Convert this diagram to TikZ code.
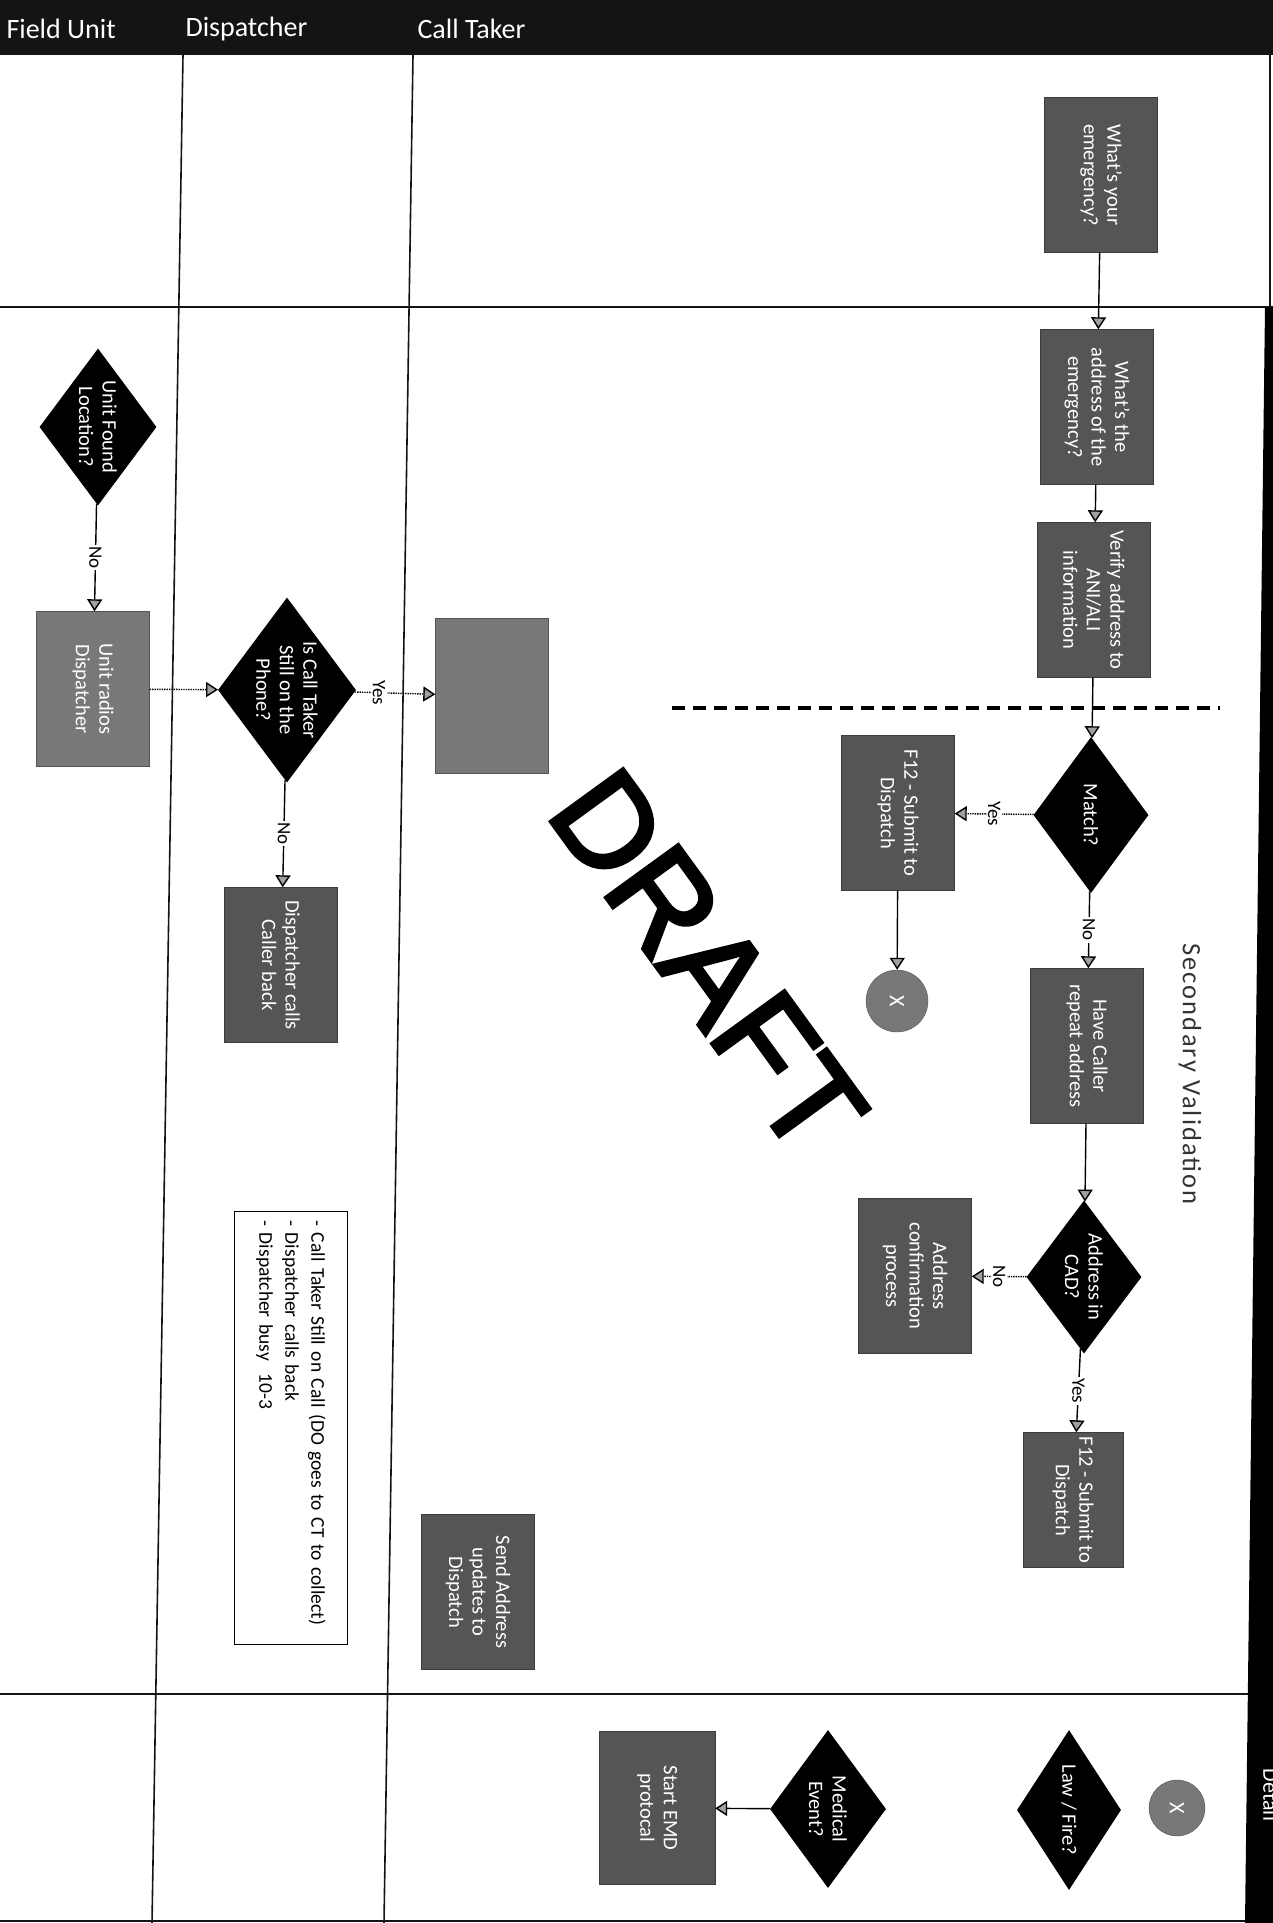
\documentclass[tikz,border=0pt]{standalone}
\usepackage{fontspec}
\setmainfont{Carlito}
\newfontfamily\draftfont[FakeBold=3]{Liberation Sans}
\newfontfamily\spacedfont[LetterSpace=8]{Carlito}
\usetikzlibrary{arrows.meta,shapes.geometric}
\definecolor{LaneInk}{RGB}{20,20,20}
\definecolor{StepGray}{RGB}{85,85,85}
\definecolor{StepLight}{RGB}{120,120,120}
\definecolor{TipGray}{RGB}{160,160,160}

\begin{document}
\begin{tikzpicture}[x=1pt, y=-1pt,
    proc/.style={rectangle, fill=StepGray, draw=StepGray!70!black, rotate=-90,
                 minimum width=155pt, minimum height=113pt, inner sep=0pt,
                 align=center, text=white, font=\fontsize{20.5}{23.5}\selectfont},
    proclight/.style={proc, fill=StepLight, draw=StepLight!70!black},
    decision/.style={diamond, fill=black, rotate=-90, inner sep=-20pt,
                     minimum width=156pt, minimum height=115pt,
                     align=center, text=white, font=\fontsize{20.5}{23.5}\selectfont},
    stopper/.style={circle, fill=StepLight, draw=StepLight!70!black,
                    minimum size=62pt, inner sep=0pt, rotate=-90,
                    text=white, font=\fontsize{22}{22}\selectfont},
    memo/.style={rectangle, draw=black, line width=1.2pt, fill=white, rotate=-90,
                 text width=415pt, inner xsep=9pt, minimum height=113pt,
                 align=left, font=\fontsize{19.5}{26}\selectfont},
    lbl/.style={fill=white, rotate=-90, inner sep=1.5pt, font=\fontsize{19}{19}\selectfont},
    hdr/.style={anchor=west, text=white, font=\fontsize{28}{28}\selectfont},
    arr/.style={-{Triangle[length=12pt, width=15pt, fill=TipGray]}, line width=1.4pt, black},
    darr/.style={arr, densely dotted},
    lane/.style={line width=1.6pt, LaneInk}
  ]
    \useasboundingbox (0,0) rectangle (1273,1923);

    \fill[black!92] (0,0) rectangle (1273,55);
    \node[hdr] (hfield) at (3,29) {Field Unit};
    \node[hdr] (hdisp) at (182,29) {Dispatcher};
    \node[hdr] (hcall) at (414,29) {Call Taker};

    \draw[lane] (183,55) -- (152,1923);
    \draw[lane] (413,55) -- (384,1923);
    \draw[lane] (0,307) -- (1273,307);
    \draw[lane] (0,1694) -- (1273,1694);
    \draw[lane] (0,1921) -- (1273,1921);
    \draw[lane] (1270,55) -- (1270,307);
    \fill[black] (1265,307) -- (1273,307) -- (1273,1923) -- (1245,1923) -- cycle;
    \node[rotate=-90, text=white, font=\fontsize{22}{22}\selectfont] (detail) at (1271,1795) {Detail};

    \draw[line width=3.5pt, dash pattern=on 13pt off 8pt] (672,708) -- (1220,708);
    \node[rotate=-90, text=black!80, font=\spacedfont\fontsize{26.5}{26.5}\selectfont] (secval) at (1190,1074) {Secondary Validation};

    \node[proc] (q1) at (1101,175) {What's your\\emergency?};
    \node[proc] (q2) at (1097,407) {What's the\\address of the\\emergency?};
    \node[proc] (q3) at (1094,600) {Verify address to\\ANI/ALI\\information};
    \node[decision] (match) at (1091,815) {Match?};
    \node[proc] (f12a) at (898,813) {F12 - Submit to\\Dispatch};
    \node[stopper] (enda) at (897,1001) {X};
    \node[proc] (repeat) at (1087,1046) {Have Caller\\repeat address};
    \node[decision, minimum width=153pt] (incad) at (1084,1277) {Address in\\CAD?};
    \node[proc] (confirm) at (915,1276) {Address\\confirmation\\process};
    \node[proc, minimum width=135pt, minimum height=100pt] (f12b) at (1073,1500) {F12 - Submit to\\Dispatch};
    \node[proc] (send) at (478,1592) {Send Address\\updates to\\Dispatch};

    \node[decision, minimum width=157pt, minimum height=117pt] (found) at (98,427) {Unit Found\\Location?};
    \node[proclight] (radios) at (93,689) {Unit radios\\Dispatcher};
    \node[decision, minimum width=185pt, minimum height=138pt] (still) at (287,690) {Is Call Taker\\Still on the\\Phone?};
    \node[proclight] (blank) at (492,696) {};
    \node[proc] (callback) at (281,965) {Dispatcher calls\\Caller back};
    \node[memo, minimum width=433pt] (note) at (291,1428) {- Call Taker Still on Call (DO goes to CT to collect)\\- Dispatcher calls back\\- Dispatcher busy\ \ 10-3};

    \node[stopper, minimum size=56pt] (endb) at (1177,1808) {X};
    \node[decision, minimum width=160pt, minimum height=104pt] (lawfire) at (1069,1810) {Law / Fire?};
    \node[decision, minimum width=158pt, minimum height=116pt] (medical) at (828,1809) {Medical\\Event?};
    \node[proc, minimum height=116pt, minimum width=153pt] (emd) at (657,1808) {Start EMD\\protocal};

    \draw[arr] (q1) -- (q2);
    \draw[arr] (q2) -- (q3);
    \draw[arr] (q3) -- (match);
    \draw[darr] (match) -- node[lbl] {Yes} (f12a);
    \draw[arr] (f12a) -- (enda);
    \draw[arr] (match) -- node[lbl] {No} (repeat);
    \draw[arr] (repeat) -- (incad);
    \draw[darr] (incad) -- node[lbl] {No} (confirm);
    \draw[arr] (incad) -- node[lbl] {Yes} (f12b);
    \draw[arr] (found) -- node[lbl] {No} (radios);
    \draw[darr] (radios) -- (still);
    \draw[darr] (still) -- node[lbl, pos=0.3] {Yes} (blank);
    \draw[arr] (still) -- node[lbl] {No} (callback);
    \draw[arr] (medical) -- (emd);

    \node[rotate=-54, font=\draftfont\fontsize{130}{130}\selectfont] (draft) at (708,962) {DRAFT};
\end{tikzpicture}
\end{document}
